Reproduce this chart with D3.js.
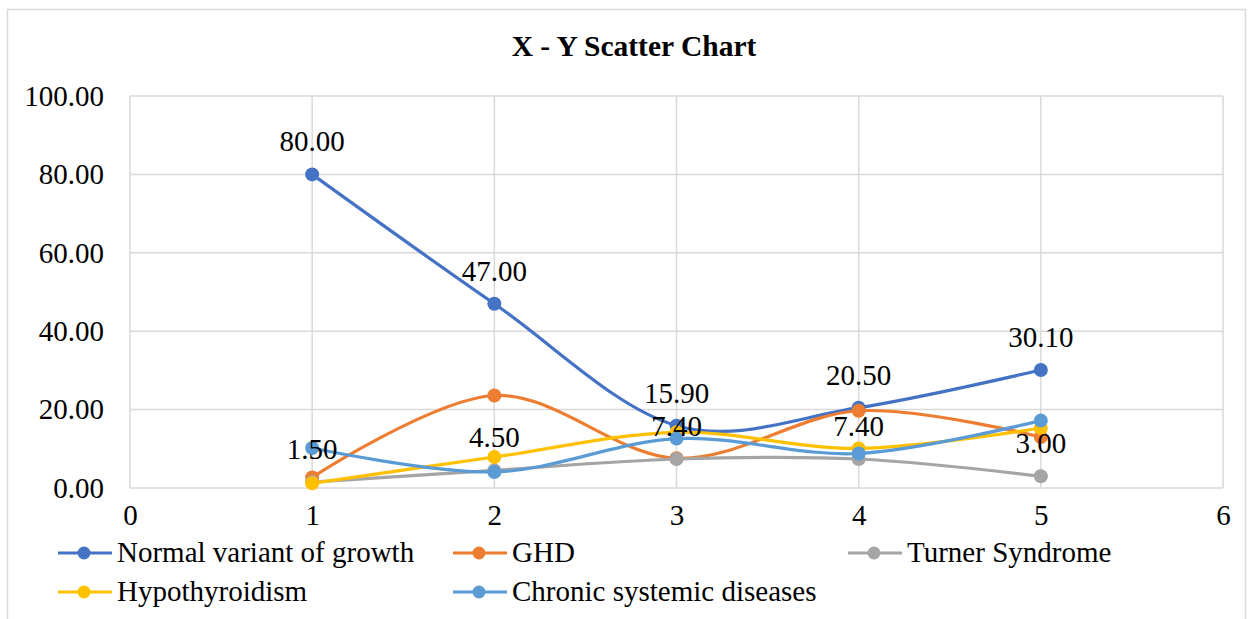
<!DOCTYPE html>
<html><head><meta charset="utf-8">
<script src="https://cdn.jsdelivr.net/npm/d3@7"></script>
<style>body{margin:0;background:#fff}svg{display:block}text{font-family:"Liberation Serif","Times New Roman",serif}</style>
</head><body><svg id="c" width="1252" height="619"></svg>
<script>
const xValues = [1, 2, 3, 4, 5];
const seriesNames = ["Normal variant of growth", "GHD", "Turner Syndrome", "Hypothyroidism", "Chronic systemic diseases"];
const normalVariant = [80.0, 47.0, 15.9, 20.5, 30.1];
const ghd = [2.7, 23.6, 7.6, 19.7, 13.0];
const turner = [1.5, 4.5, 7.4, 7.4, 3.0];
const hypothyroidism = [1.2, 7.9, 14.2, 10.1, 15.3];
const chronic = [10.2, 4.1, 12.6, 8.8, 17.2];
const seriesColors = ["#4472C4", "#ED7D31", "#A5A5A5", "#FFC000", "#5B9BD5"];
const xTicks = [0, 1, 2, 3, 4, 5, 6];
const yTicks = [0, 20, 40, 60, 80, 100];
const labelledSeries = [0, 2];
const FS = 29;

const svg = d3.select("#c");
svg.append("rect").attr("x", 7.5).attr("y", 9.5).attr("width", 1238).attr("height", 640)
  .attr("fill", "#fff").attr("stroke", "#d9d9d9").attr("stroke-width", 1.5);

const x = d3.scaleLinear().domain([0, 6]).range([130, 1223]);
const y = d3.scaleLinear().domain([0, 100]).range([488, 96]);

svg.append("text").attr("x", 634).attr("y", 56).attr("text-anchor", "middle")
  .attr("font-weight", "bold").attr("font-size", 29.5).text("X - Y Scatter Chart");

// gridlines
const grid = svg.append("g");
grid.selectAll("line.h").data(yTicks).join("line")
  .attr("x1", x(0)).attr("x2", x(6)).attr("y1", d => y(d)).attr("y2", d => y(d))
  .attr("stroke", "#d9d9d9").attr("stroke-width", 1.5);
grid.selectAll("line.v").data(xTicks).join("line")
  .attr("y1", y(0)).attr("y2", y(100)).attr("x1", d => x(d)).attr("x2", d => x(d))
  .attr("stroke", "#d9d9d9").attr("stroke-width", 1.5);

// axes labels
const yAxis = d3.axisLeft(y).tickValues(yTicks).tickFormat(d3.format(".2f")).tickSize(0).tickPadding(26);
const ya = svg.append("g").attr("transform", `translate(${x(0)},0)`).call(yAxis);
ya.select(".domain").remove();
ya.selectAll("text").attr("font-size", FS).attr("fill", "#000").style("font-family", '"Liberation Serif",serif');

const xAxis = d3.axisBottom(x).tickValues(xTicks).tickFormat(d3.format("d")).tickSize(0).tickPadding(16);
const xa = svg.append("g").attr("transform", `translate(0,${y(0)})`).call(xAxis);
xa.select(".domain").remove();
xa.selectAll("text").attr("font-size", FS).attr("fill", "#000").style("font-family", '"Liberation Serif",serif');

const allSeries = [normalVariant, ghd, turner, hypothyroidism, chronic];
const line = d3.line().x((d, i) => x(xValues[i])).y(d => y(d)).curve(d3.curveCardinal.tension(0));

allSeries.forEach((vals, s) => {
  const g = svg.append("g");
  g.append("path").datum(vals).attr("d", line).attr("fill", "none")
    .attr("stroke", seriesColors[s]).attr("stroke-width", 3.2);
  g.selectAll("circle").data(vals).join("circle")
    .attr("cx", (d, i) => x(xValues[i])).attr("cy", d => y(d)).attr("r", 7)
    .attr("fill", seriesColors[s]);
});

labelledSeries.forEach(s => {
  svg.append("g").selectAll("text").data(allSeries[s]).join("text")
    .attr("x", (d, i) => x(xValues[i])).attr("y", d => y(d) - 23)
    .attr("text-anchor", "middle").attr("font-size", FS).attr("fill", "#000")
    .text(d => d3.format(".2f")(d));
});

// legend
const legendPos = [[58, 553], [453, 553], [848, 553], [58, 592], [453, 592]];
seriesNames.forEach((name, s) => {
  const [lx, ly] = legendPos[s];
  const g = svg.append("g").attr("transform", `translate(${lx},${ly})`);
  g.append("line").attr("x1", 0).attr("x2", 54).attr("y1", 0).attr("y2", 0)
    .attr("stroke", seriesColors[s]).attr("stroke-width", 3.2);
  g.append("circle").attr("cx", 26).attr("cy", 0).attr("r", 6.5).attr("fill", seriesColors[s]);
  g.append("text").attr("x", 59).attr("y", 9).attr("font-size", FS).attr("fill", "#000").text(name);
});
</script></body></html>
